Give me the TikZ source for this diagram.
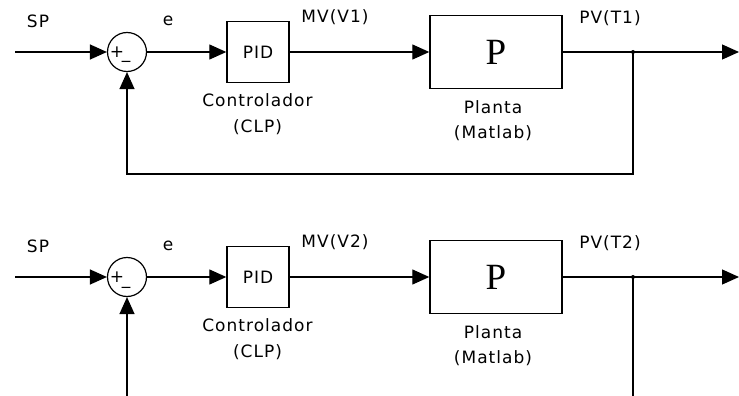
\documentclass[tikz,border=0pt]{standalone}
\usepackage{fontspec}
\setmainfont[LetterSpace=6]{DejaVu Sans}
\newfontfamily\serifP{Liberation Serif}
\usetikzlibrary{arrows.meta}
\begin{document}
\begin{tikzpicture}[x=1pt,y=-1pt,line width=1.3pt,
  >={Triangle[length=17pt,width=15pt]},
  blk/.style={draw,line width=1.4pt,inner sep=0pt},
  sumc/.style={circle,draw,line width=1.2pt,minimum size=39pt,inner sep=0pt},
  lbl/.style={font=\fontsize{17}{19}\selectfont,inner sep=0pt},
  bigP/.style={font=\serifP\fontsize{37}{37}\selectfont}]
\useasboundingbox (0,0) rectangle (739,396);
\foreach \dy/\i in {0/1,225/2}{
  \node[sumc] (sum\i) at (127,{52+\dy}) {};
  \node[lbl] (plus\i) at (117,{52+\dy}) {+};
  \node[lbl,anchor=base] (minus\i) at (126,{59+\dy}) {\_};
  \node[blk,minimum width=62pt,minimum height=61pt,lbl] (pid\i) at (258,{52+\dy}) {PID};
  \node[blk,minimum width=132pt,minimum height=73pt,bigP] (plant\i) at (496,{52+\dy}) {P};
  \coordinate (in\i) at (15,{52+\dy});
  \coordinate (j\i) at (633,{52+\dy});
  \coordinate (out\i) at (739,{52+\dy});
  \draw[->] (in\i) -- (sum\i.west);
  \draw[->] (sum\i) -- (pid\i);
  \draw[->] (pid\i) -- (plant\i);
  \draw (plant\i) -- (j\i);
  \draw[->] (j\i) -- (out\i);
  \fill (j\i) circle (2pt);
  \node[lbl] (sp\i) at (38,{21+\dy}) {SP};
  \node[lbl] (e\i) at (168,{21+\dy}) {e};
  \node[lbl] (mv\i) at (335,{17+\dy}) {MV(V\i)};
  \node[lbl] (pv\i) at (610,{18+\dy}) {PV(T\i)};
  \node[lbl] (ctl\i) at (257.5,{100+\dy}) {Controlador};
  \node[lbl] (clp\i) at (257.5,{127+\dy}) {(CLP)};
  \node[lbl] (pl\i) at (493,{107+\dy}) {Planta};
  \node[lbl] (mat\i) at (493,{133+\dy}) {(Matlab)};
}
\coordinate (fbr1) at (633,174);
\coordinate (fbl1) at (127,174);
\draw[->] (j1) -- (fbr1) -- (fbl1) -- (sum1.south);
\coordinate (fbr2) at (633,396);
\coordinate (fbl2) at (127,396);
\draw (j2) -- (fbr2);
\draw[->] (fbl2) -- (sum2.south);
\end{tikzpicture}
\end{document}
